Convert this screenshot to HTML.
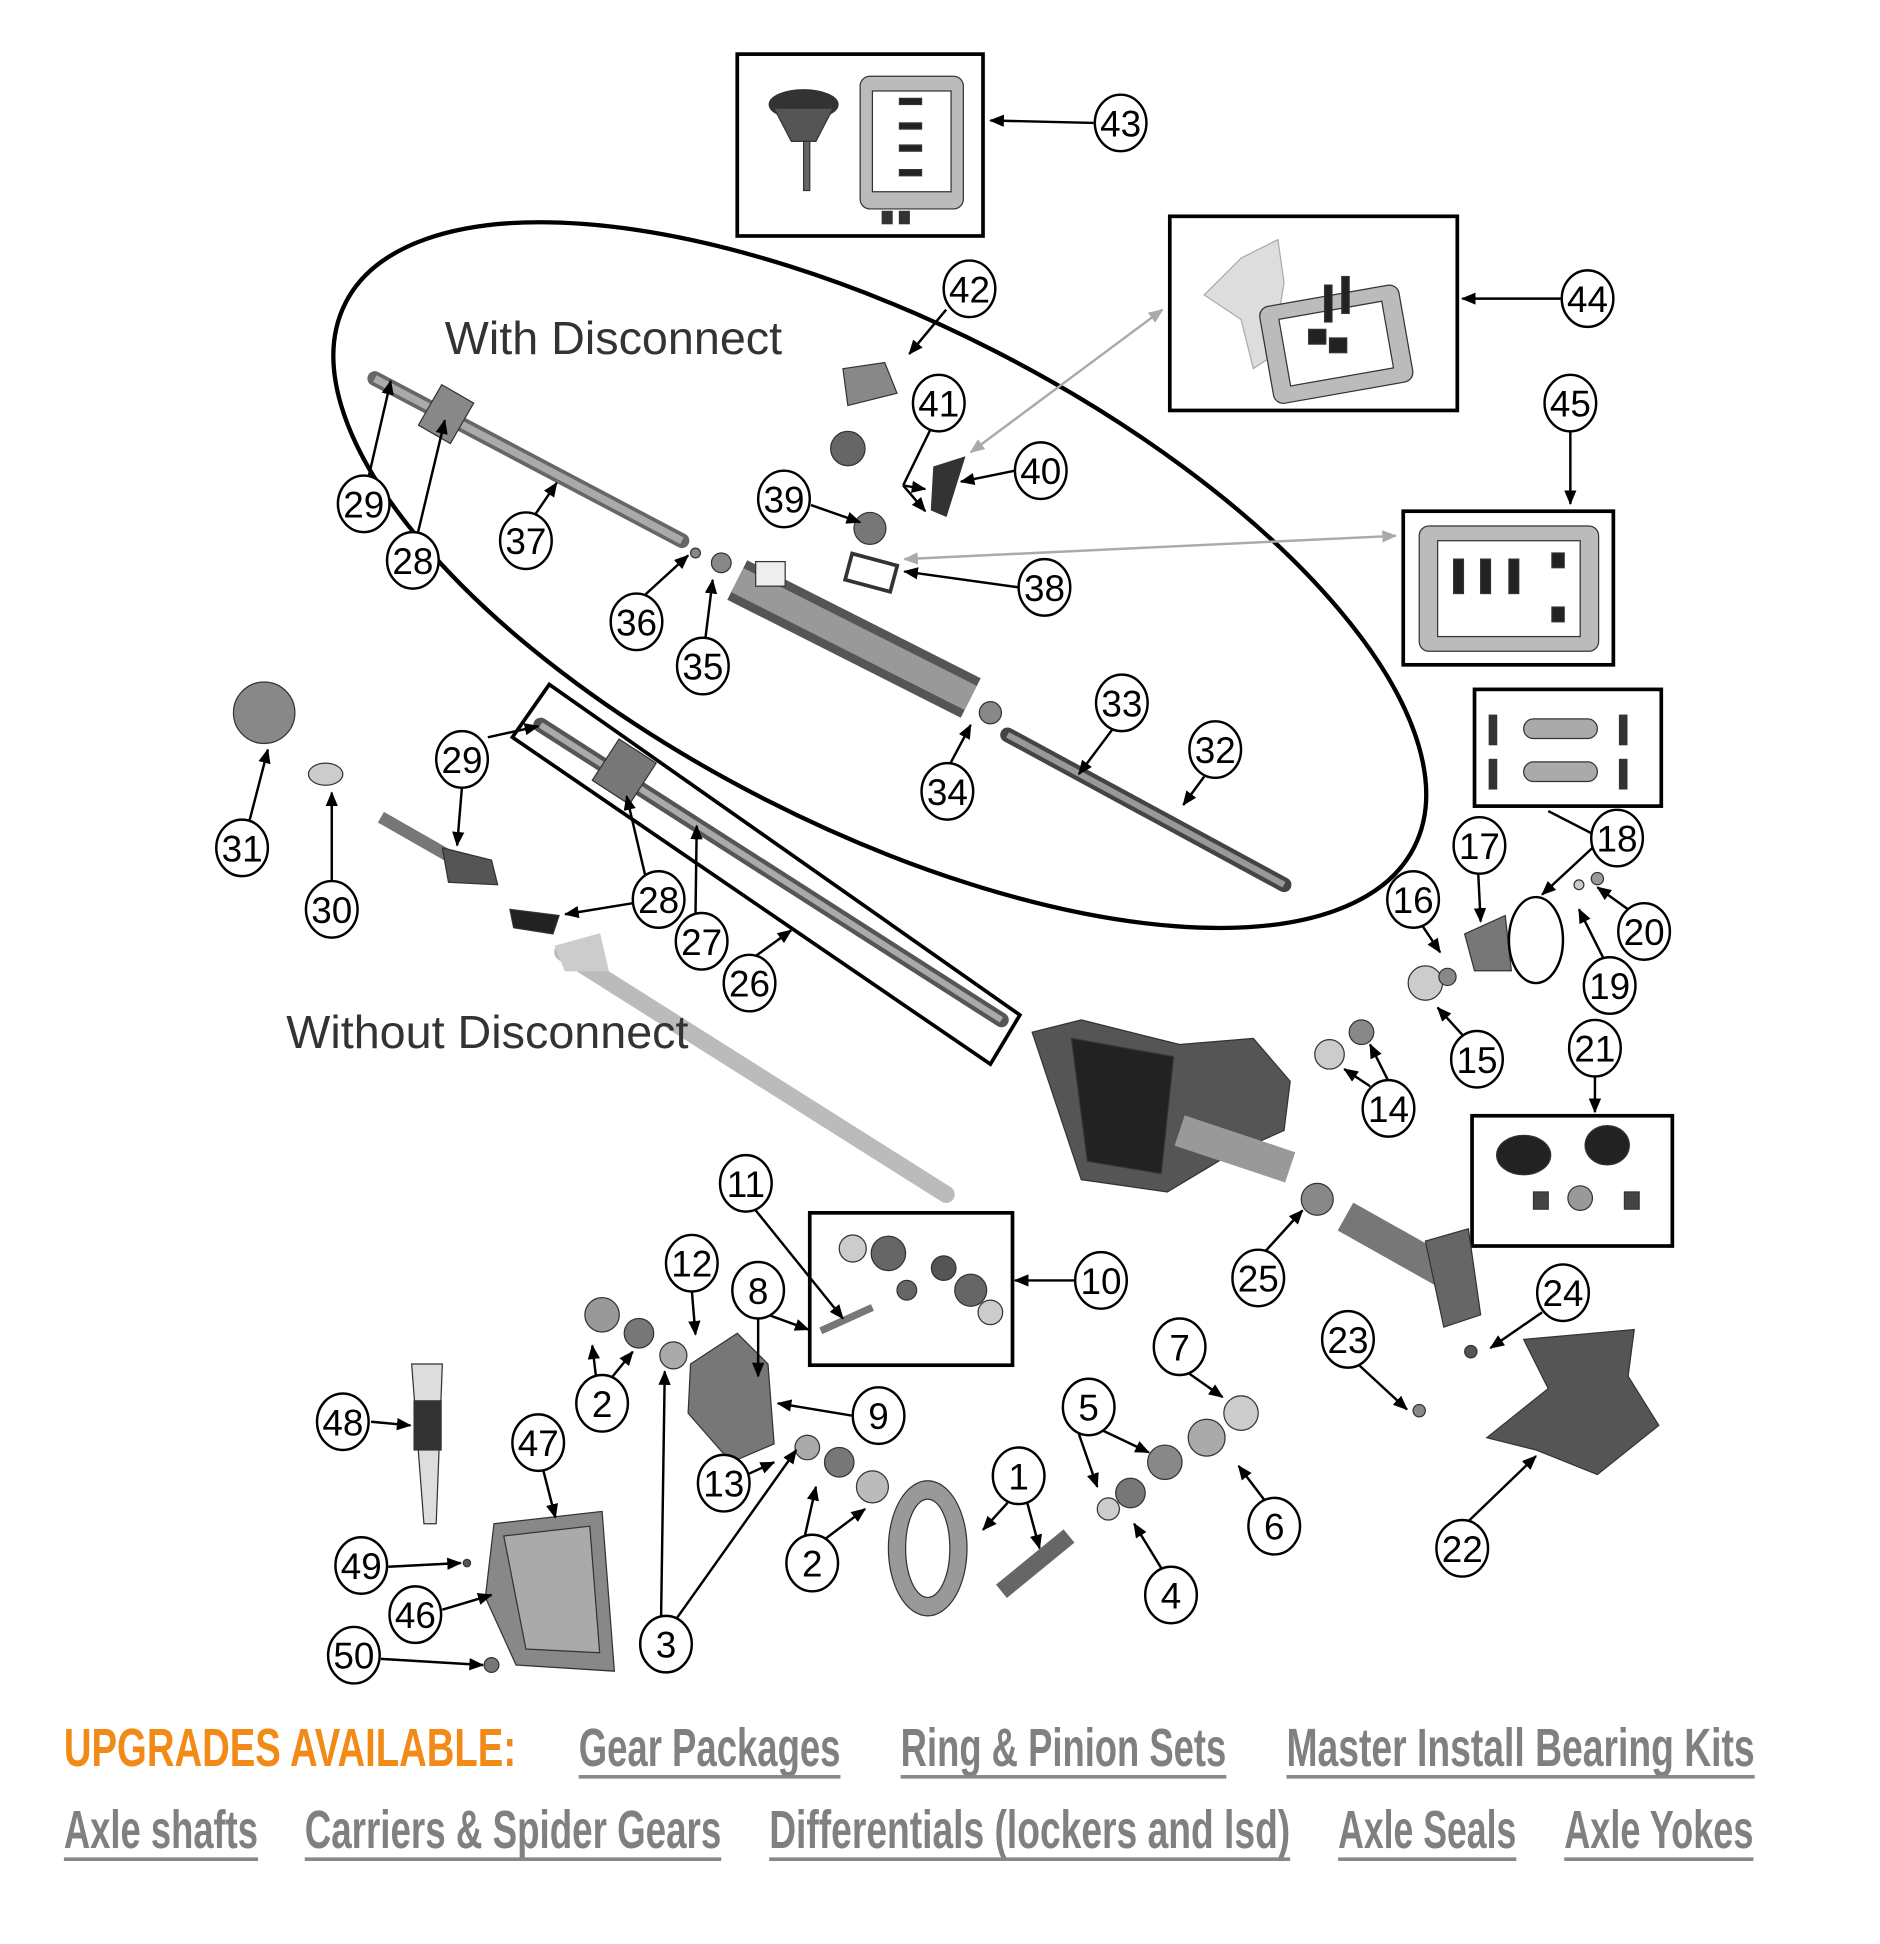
<!DOCTYPE html>
<html><head><meta charset="utf-8"><style>
html,body{margin:0;padding:0;background:#fff}
svg{display:block}
.c{fill:#fff;stroke:#000;stroke-width:2}
.n{font-family:"Liberation Sans Narrow","Liberation Sans",sans-serif;font-size:30px;text-anchor:middle;fill:#000}
.a{stroke:#000;stroke-width:2;fill:none;marker-end:url(#ah)}
.g{stroke:#aaa;stroke-width:2;fill:none;marker-end:url(#gh);marker-start:url(#gs)}
.b{fill:none;stroke:#000;stroke-width:3}
.up{font-family:"Liberation Sans Narrow","Liberation Sans",sans-serif;font-weight:bold;font-size:44px}
.lk{fill:#808080}
.ul{stroke:#888;stroke-width:3}
</style></head><body>
<svg width="1880" height="1944" viewBox="0 0 1530 1582" xmlns="http://www.w3.org/2000/svg">
<defs>
<marker id="ah" markerWidth="12" markerHeight="10" refX="11" refY="5" orient="auto" markerUnits="userSpaceOnUse"><path d="M0,0 L12,5 L0,10 Z" fill="#000"/></marker>
<marker id="gh" markerWidth="12" markerHeight="10" refX="11" refY="5" orient="auto" markerUnits="userSpaceOnUse"><path d="M0,0 L12,5 L0,10 Z" fill="#aaa"/></marker>
<marker id="gs" markerWidth="12" markerHeight="10" refX="1" refY="5" orient="auto" markerUnits="userSpaceOnUse"><path d="M12,0 L0,5 L12,10 Z" fill="#aaa"/></marker>
</defs>

<ellipse cx="716" cy="468" rx="488" ry="205" transform="rotate(27 716 468)" fill="none" stroke="#000" stroke-width="3.5"/>
<text x="362" y="288" font-family="Liberation Sans Narrow,Liberation Sans,sans-serif" font-size="38" fill="#333">With Disconnect</text>

<rect x="600" y="44" width="200" height="148" class="b"/>
<rect x="952" y="176" width="234" height="158" class="b"/>
<rect x="1142" y="416" width="171" height="125" class="b"/>
<rect x="1200" y="561" width="152" height="95" class="b"/>
<rect x="659" y="987" width="165" height="124" class="b"/>
<rect x="1198" y="908" width="163" height="106" class="b"/>
<polygon points="447,557 417,600 806,866 830,826" class="b"/>

<g fill="#777" stroke="#333" stroke-width="1">
<ellipse cx="654" cy="85" rx="28" ry="12" fill="#333"/>
<path d="M630,88 L678,88 L664,115 L644,115 Z" fill="#555"/>
<rect x="654" y="115" width="5" height="40" fill="#666"/>
<rect x="700" y="62" width="84" height="108" rx="8" fill="#bbb"/>
<rect x="710" y="74" width="64" height="82" fill="#fff"/>
<rect x="732" y="80" width="18" height="5" fill="#222"/><rect x="732" y="100" width="18" height="5" fill="#222"/><rect x="732" y="118" width="18" height="5" fill="#222"/><rect x="732" y="138" width="18" height="5" fill="#222"/>
<rect x="718" y="172" width="8" height="10" fill="#333"/><rect x="732" y="172" width="8" height="10" fill="#333"/>
<path d="M980,240 L1010,210 L1040,195 L1045,230 L1035,290 L1020,300 L1010,260 Z" fill="#ddd" stroke="#aaa"/>
<rect x="1030" y="240" width="115" height="80" rx="8" fill="#bbb" transform="rotate(-10 1088 280)"/>
<rect x="1045" y="252" width="85" height="55" fill="#fff" transform="rotate(-10 1088 280)"/>
<rect x="1078" y="232" width="6" height="30" fill="#222"/><rect x="1092" y="225" width="6" height="30" fill="#222"/>
<rect x="1065" y="268" width="14" height="12" fill="#222"/><rect x="1082" y="275" width="14" height="12" fill="#222"/>
<rect x="1155" y="428" width="146" height="102" rx="8" fill="#bbb"/>
<rect x="1170" y="440" width="116" height="78" fill="#fff"/>
<rect x="1183" y="455" width="8" height="28" fill="#222"/><rect x="1205" y="455" width="8" height="28" fill="#222"/><rect x="1228" y="455" width="8" height="28" fill="#222"/><rect x="1263" y="450" width="10" height="12" fill="#222"/><rect x="1263" y="494" width="10" height="12" fill="#222"/>
<rect x="1240" y="585" width="60" height="16" rx="8" fill="#aaa"/><rect x="1240" y="620" width="60" height="16" rx="8" fill="#aaa"/>
<rect x="1212" y="582" width="6" height="24" fill="#333"/><rect x="1318" y="582" width="6" height="24" fill="#333"/><rect x="1212" y="618" width="6" height="24" fill="#333"/><rect x="1318" y="618" width="6" height="24" fill="#333"/>
<circle cx="694" cy="1016" r="11" fill="#ccc"/><circle cx="723" cy="1020" r="14" fill="#666"/><circle cx="768" cy="1032" r="10" fill="#555"/><circle cx="790" cy="1050" r="13" fill="#666"/><circle cx="738" cy="1050" r="8" fill="#666"/><circle cx="806" cy="1068" r="10" fill="#ccc"/>
<line x1="668" y1="1083" x2="710" y2="1064" stroke="#777" stroke-width="6"/>
<ellipse cx="1240" cy="940" rx="22" ry="16" fill="#222"/><ellipse cx="1308" cy="932" rx="18" ry="16" fill="#222"/>
<rect x="1248" y="970" width="12" height="14" fill="#444"/><rect x="1322" y="970" width="12" height="14" fill="#444"/><circle cx="1286" cy="975" r="10" fill="#999"/>
<line x1="305" y1="308" x2="555" y2="440" stroke="#666" stroke-width="12" stroke-linecap="round"/>
<line x1="305" y1="308" x2="555" y2="440" stroke="#aaa" stroke-width="6"/>
<rect x="348" y="318" width="30" height="38" fill="#888" transform="rotate(30 363 337)"/>
<line x1="600" y1="472" x2="790" y2="568" stroke="#555" stroke-width="36"/>
<line x1="600" y1="472" x2="790" y2="568" stroke="#999" stroke-width="22"/>
<rect x="615" y="457" width="24" height="20" fill="#eee"/>
<rect x="690" y="455" width="38" height="22" fill="none" stroke="#333" stroke-width="3" transform="rotate(15 709 466)"/>
<line x1="820" y1="598" x2="1045" y2="720" stroke="#444" stroke-width="12" stroke-linecap="round"/>
<line x1="820" y1="598" x2="1045" y2="720" stroke="#999" stroke-width="5"/>
<circle cx="806" cy="580" r="9" fill="#888"/>
<circle cx="708" cy="430" r="13" fill="#777"/><circle cx="690" cy="365" r="14" fill="#666"/>
<path d="M686,300 L720,295 L730,320 L690,330 Z" fill="#888"/>
<path d="M760,380 L785,372 L770,420 L758,415 Z" fill="#333"/>
<circle cx="587" cy="458" r="8" fill="#888"/><circle cx="566" cy="450" r="4" fill="#888"/>
<line x1="440" y1="590" x2="815" y2="830" stroke="#555" stroke-width="12" stroke-linecap="round"/>
<line x1="440" y1="590" x2="815" y2="830" stroke="#aaa" stroke-width="5"/>
<rect x="490" y="608" width="36" height="40" fill="#777" transform="rotate(33 508 628)"/>
<line x1="458" y1="775" x2="770" y2="972" stroke="#bbb" stroke-width="14" stroke-linecap="round"/>
<path d="M452,770 L488,760 L495,790 L460,790 Z" fill="#ccc" stroke="#ccc"/>
<line x1="310" y1="665" x2="380" y2="705" stroke="#777" stroke-width="10"/>
<path d="M360,690 L400,700 L405,720 L365,718 Z" fill="#555"/>
<path d="M415,740 L455,745 L450,760 L418,755 Z" fill="#222"/>
<circle cx="215" cy="580" r="25" fill="#888"/><ellipse cx="265" cy="630" rx="14" ry="9" fill="#ccc"/>
<path d="M840,840 L880,830 L960,850 L1020,845 L1050,880 L1045,920 L1000,940 L950,970 L880,960 L860,900 Z" fill="#555"/>
<path d="M872,845 L955,860 L945,955 L885,945 Z" fill="#222"/>
<line x1="960" y1="920" x2="1050" y2="950" stroke="#999" stroke-width="26"/>
<circle cx="1072" cy="976" r="13" fill="#888"/>
<line x1="1095" y1="990" x2="1175" y2="1035" stroke="#777" stroke-width="26"/>
<path d="M1160,1010 L1195,1000 L1205,1070 L1175,1080 Z" fill="#666"/>
<path d="M1240,1090 L1330,1082 L1325,1120 L1350,1160 L1300,1200 L1250,1180 L1210,1170 L1260,1130 Z" fill="#555"/>
<circle cx="1197" cy="1100" r="5" fill="#555"/><circle cx="1155" cy="1148" r="5" fill="#888"/>
<circle cx="1160" cy="800" r="14" fill="#ccc"/><circle cx="1178" cy="795" r="7" fill="#888"/>
<path d="M1192,760 L1225,745 L1230,790 L1200,790 Z" fill="#777"/>
<ellipse cx="1250" cy="765" rx="22" ry="35" fill="none" stroke="#000" stroke-width="2"/>
<circle cx="1285" cy="720" r="4" fill="#ccc"/><circle cx="1300" cy="715" r="5" fill="#999"/>
<circle cx="1082" cy="858" r="12" fill="#ccc"/><circle cx="1108" cy="840" r="10" fill="#888"/>
<circle cx="490" cy="1070" r="14" fill="#999"/><circle cx="520" cy="1085" r="12" fill="#777"/><circle cx="548" cy="1103" r="11" fill="#aaa"/>
<path d="M562,1110 L600,1085 L625,1110 L630,1175 L595,1190 L560,1150 Z" fill="#777"/>
<circle cx="657" cy="1178" r="10" fill="#aaa"/><circle cx="683" cy="1190" r="12" fill="#777"/><circle cx="710" cy="1210" r="13" fill="#bbb"/>
<ellipse cx="755" cy="1260" rx="32" ry="55" fill="#999"/><ellipse cx="755" cy="1260" rx="18" ry="40" fill="#fff"/>
<line x1="815" y1="1295" x2="870" y2="1250" stroke="#666" stroke-width="14"/>
<circle cx="902" cy="1228" r="9" fill="#ccc"/><circle cx="920" cy="1215" r="12" fill="#777"/><circle cx="948" cy="1190" r="14" fill="#888"/><circle cx="982" cy="1170" r="15" fill="#aaa"/><circle cx="1010" cy="1150" r="14" fill="#ccc"/>
<path d="M402,1240 L490,1230 L500,1360 L420,1355 L395,1300 Z" fill="#888"/>
<path d="M410,1250 L480,1242 L488,1345 L428,1342 Z" fill="#aaa"/>
<path d="M335,1110 L360,1110 L355,1240 L345,1240 Z" fill="#ddd"/>
<rect x="337" y="1140" width="22" height="40" fill="#333"/>
<circle cx="380" cy="1272" r="3" fill="#555"/><circle cx="400" cy="1355" r="6" fill="#777"/>
</g>

<text x="233" y="853" font-family="Liberation Sans Narrow,Liberation Sans,sans-serif" font-size="38" fill="#333">Without Disconnect</text>

<g>
<line class="a" x1="890" y1="100" x2="806" y2="98"/>
<line class="a" x1="770" y1="252" x2="740" y2="288"/>
<line class="a" x1="1270" y1="243" x2="1190" y2="243"/>
<line class="a" x1="1278" y1="350" x2="1278" y2="410"/>
<polyline points="757,350 735,395" fill="none" stroke="#000" stroke-width="2"/>
<line class="a" x1="735" y1="395" x2="753" y2="398"/>
<line class="a" x1="735" y1="395" x2="753" y2="416"/>
<line class="a" x1="826" y1="383" x2="782" y2="392"/>
<line class="a" x1="660" y1="411" x2="700" y2="425"/>
<line class="g" x1="790" y1="368" x2="946" y2="252"/>
<line class="g" x1="736" y1="455" x2="1136" y2="436"/>
<line class="a" x1="300" y1="388" x2="318" y2="310"/>
<line class="a" x1="340" y1="434" x2="362" y2="342"/>
<line class="a" x1="436" y1="418" x2="453" y2="393"/>
<line class="a" x1="829" y1="478" x2="736" y2="465"/>
<line class="a" x1="525" y1="484" x2="560" y2="452"/>
<line class="a" x1="574" y1="520" x2="580" y2="472"/>
<line class="a" x1="905" y1="594" x2="878" y2="630"/>
<line class="a" x1="980" y1="632" x2="963" y2="655"/>
<line class="a" x1="773" y1="622" x2="790" y2="590"/>
<line class="a" x1="397" y1="600" x2="438" y2="591"/>
<line class="a" x1="376" y1="640" x2="372" y2="688"/>
<line class="a" x1="203" y1="668" x2="218" y2="610"/>
<line class="a" x1="270" y1="718" x2="270" y2="645"/>
<line class="a" x1="515" y1="735" x2="460" y2="744"/>
<line class="a" x1="525" y1="712" x2="510" y2="648"/>
<line class="a" x1="566" y1="746" x2="567" y2="672"/>
<line class="a" x1="615" y1="778" x2="644" y2="757"/>
<line class="a" x1="1203" y1="710" x2="1205" y2="750"/>
<line class="a" x1="1158" y1="754" x2="1172" y2="775"/>
<line x1="1295" y1="678" x2="1260" y2="660" stroke="#000" stroke-width="2"/>
<line class="a" x1="1296" y1="690" x2="1255" y2="728"/>
<line class="a" x1="1325" y1="740" x2="1300" y2="722"/>
<line class="a" x1="1305" y1="780" x2="1285" y2="740"/>
<line class="a" x1="1190" y1="842" x2="1170" y2="820"/>
<line class="a" x1="1115" y1="884" x2="1094" y2="870"/>
<line class="a" x1="1130" y1="880" x2="1115" y2="850"/>
<line class="a" x1="1298" y1="875" x2="1298" y2="905"/>
<line class="a" x1="1030" y1="1018" x2="1060" y2="985"/>
<line class="a" x1="1255" y1="1068" x2="1213" y2="1097"/>
<line class="a" x1="1105" y1="1110" x2="1145" y2="1147"/>
<line class="a" x1="1195" y1="1238" x2="1250" y2="1185"/>
<line class="a" x1="875" y1="1042" x2="826" y2="1042"/>
<line class="a" x1="615" y1="985" x2="686" y2="1073"/>
<line class="a" x1="563" y1="1050" x2="566" y2="1086"/>
<line class="a" x1="617" y1="1072" x2="617" y2="1120"/>
<line class="a" x1="598" y1="1060" x2="658" y2="1082"/>
<line class="a" x1="693" y1="1152" x2="633" y2="1142"/>
<line class="a" x1="968" y1="1118" x2="995" y2="1137"/>
<line class="a" x1="878" y1="1167" x2="893" y2="1210"/>
<line class="a" x1="895" y1="1163" x2="935" y2="1182"/>
<line class="a" x1="1030" y1="1222" x2="1008" y2="1193"/>
<line class="a" x1="945" y1="1276" x2="923" y2="1240"/>
<line class="a" x1="820" y1="1223" x2="800" y2="1245"/>
<line class="a" x1="836" y1="1223" x2="846" y2="1260"/>
<line class="a" x1="485" y1="1120" x2="482" y2="1095"/>
<line class="a" x1="497" y1="1122" x2="515" y2="1100"/>
<line class="a" x1="655" y1="1250" x2="664" y2="1210"/>
<line class="a" x1="672" y1="1252" x2="704" y2="1228"/>
<line class="a" x1="608" y1="1200" x2="630" y2="1190"/>
<line class="a" x1="538" y1="1317" x2="541" y2="1116"/>
<line class="a" x1="550" y1="1318" x2="648" y2="1180"/>
<line class="a" x1="302" y1="1157" x2="334" y2="1160"/>
<line class="a" x1="442" y1="1196" x2="452" y2="1235"/>
<line class="a" x1="316" y1="1275" x2="375" y2="1272"/>
<line class="a" x1="360" y1="1310" x2="400" y2="1298"/>
<line class="a" x1="310" y1="1350" x2="393" y2="1355"/>
</g>

<g>
<g transform="translate(912,100)"><ellipse class="c" rx="21" ry="23"/><text class="n" y="11">43</text></g>
<g transform="translate(789,235)"><ellipse class="c" rx="21" ry="23"/><text class="n" y="11">42</text></g>
<g transform="translate(1292,243)"><ellipse class="c" rx="21" ry="23"/><text class="n" y="11">44</text></g>
<g transform="translate(1278,328)"><ellipse class="c" rx="21" ry="23"/><text class="n" y="11">45</text></g>
<g transform="translate(764,328)"><ellipse class="c" rx="21" ry="23"/><text class="n" y="11">41</text></g>
<g transform="translate(847,383)"><ellipse class="c" rx="21" ry="23"/><text class="n" y="11">40</text></g>
<g transform="translate(638,406)"><ellipse class="c" rx="21" ry="23"/><text class="n" y="11">39</text></g>
<g transform="translate(296,410)"><ellipse class="c" rx="21" ry="23"/><text class="n" y="11">29</text></g>
<g transform="translate(428,440)"><ellipse class="c" rx="21" ry="23"/><text class="n" y="11">37</text></g>
<g transform="translate(336,456)"><ellipse class="c" rx="21" ry="23"/><text class="n" y="11">28</text></g>
<g transform="translate(850,478)"><ellipse class="c" rx="21" ry="23"/><text class="n" y="11">38</text></g>
<g transform="translate(518,506)"><ellipse class="c" rx="21" ry="23"/><text class="n" y="11">36</text></g>
<g transform="translate(572,542)"><ellipse class="c" rx="21" ry="23"/><text class="n" y="11">35</text></g>
<g transform="translate(913,572)"><ellipse class="c" rx="21" ry="23"/><text class="n" y="11">33</text></g>
<g transform="translate(989,610)"><ellipse class="c" rx="21" ry="23"/><text class="n" y="11">32</text></g>
<g transform="translate(376,618)"><ellipse class="c" rx="21" ry="23"/><text class="n" y="11">29</text></g>
<g transform="translate(771,644)"><ellipse class="c" rx="21" ry="23"/><text class="n" y="11">34</text></g>
<g transform="translate(197,690)"><ellipse class="c" rx="21" ry="23"/><text class="n" y="11">31</text></g>
<g transform="translate(1204,688)"><ellipse class="c" rx="21" ry="23"/><text class="n" y="11">17</text></g>
<g transform="translate(1316,682)"><ellipse class="c" rx="21" ry="23"/><text class="n" y="11">18</text></g>
<g transform="translate(536,732)"><ellipse class="c" rx="21" ry="23"/><text class="n" y="11">28</text></g>
<g transform="translate(1150,732)"><ellipse class="c" rx="21" ry="23"/><text class="n" y="11">16</text></g>
<g transform="translate(270,740)"><ellipse class="c" rx="21" ry="23"/><text class="n" y="11">30</text></g>
<g transform="translate(571,766)"><ellipse class="c" rx="21" ry="23"/><text class="n" y="11">27</text></g>
<g transform="translate(1338,758)"><ellipse class="c" rx="21" ry="23"/><text class="n" y="11">20</text></g>
<g transform="translate(1310,802)"><ellipse class="c" rx="21" ry="23"/><text class="n" y="11">19</text></g>
<g transform="translate(610,800)"><ellipse class="c" rx="21" ry="23"/><text class="n" y="11">26</text></g>
<g transform="translate(1202,862)"><ellipse class="c" rx="21" ry="23"/><text class="n" y="11">15</text></g>
<g transform="translate(1298,853)"><ellipse class="c" rx="21" ry="23"/><text class="n" y="11">21</text></g>
<g transform="translate(1130,902)"><ellipse class="c" rx="21" ry="23"/><text class="n" y="11">14</text></g>
<g transform="translate(607,963)"><ellipse class="c" rx="21" ry="23"/><text class="n" y="11">11</text></g>
<g transform="translate(896,1042)"><ellipse class="c" rx="21" ry="23"/><text class="n" y="11">10</text></g>
<g transform="translate(563,1028)"><ellipse class="c" rx="21" ry="23"/><text class="n" y="11">12</text></g>
<g transform="translate(1024,1040)"><ellipse class="c" rx="21" ry="23"/><text class="n" y="11">25</text></g>
<g transform="translate(617,1050)"><ellipse class="c" rx="21" ry="23"/><text class="n" y="11">8</text></g>
<g transform="translate(1272,1052)"><ellipse class="c" rx="21" ry="23"/><text class="n" y="11">24</text></g>
<g transform="translate(960,1096)"><ellipse class="c" rx="21" ry="23"/><text class="n" y="11">7</text></g>
<g transform="translate(1097,1090)"><ellipse class="c" rx="21" ry="23"/><text class="n" y="11">23</text></g>
<g transform="translate(490,1142)"><ellipse class="c" rx="21" ry="23"/><text class="n" y="11">2</text></g>
<g transform="translate(715,1152)"><ellipse class="c" rx="21" ry="23"/><text class="n" y="11">9</text></g>
<g transform="translate(279,1157)"><ellipse class="c" rx="21" ry="23"/><text class="n" y="11">48</text></g>
<g transform="translate(886,1145)"><ellipse class="c" rx="21" ry="23"/><text class="n" y="11">5</text></g>
<g transform="translate(438,1174)"><ellipse class="c" rx="21" ry="23"/><text class="n" y="11">47</text></g>
<g transform="translate(829,1201)"><ellipse class="c" rx="21" ry="23"/><text class="n" y="11">1</text></g>
<g transform="translate(589,1207)"><ellipse class="c" rx="21" ry="23"/><text class="n" y="11">13</text></g>
<g transform="translate(1037,1242)"><ellipse class="c" rx="21" ry="23"/><text class="n" y="11">6</text></g>
<g transform="translate(1190,1260)"><ellipse class="c" rx="21" ry="23"/><text class="n" y="11">22</text></g>
<g transform="translate(661,1272)"><ellipse class="c" rx="21" ry="23"/><text class="n" y="11">2</text></g>
<g transform="translate(294,1274)"><ellipse class="c" rx="21" ry="23"/><text class="n" y="11">49</text></g>
<g transform="translate(953,1298)"><ellipse class="c" rx="21" ry="23"/><text class="n" y="11">4</text></g>
<g transform="translate(338,1314)"><ellipse class="c" rx="21" ry="23"/><text class="n" y="11">46</text></g>
<g transform="translate(542,1338)"><ellipse class="c" rx="21" ry="23"/><text class="n" y="11">3</text></g>
<g transform="translate(288,1347)"><ellipse class="c" rx="21" ry="23"/><text class="n" y="11">50</text></g>
</g>

<text class="up" x="52" y="1437" fill="#f28a17" textLength="368" lengthAdjust="spacingAndGlyphs">UPGRADES AVAILABLE:</text>
<text class="up lk" x="471" y="1437" textLength="213" lengthAdjust="spacingAndGlyphs">Gear Packages</text>
<line class="ul" x1="471" y1="1446" x2="684" y2="1446"/>
<text class="up lk" x="733" y="1437" textLength="265" lengthAdjust="spacingAndGlyphs">Ring &amp; Pinion Sets</text>
<line class="ul" x1="733" y1="1446" x2="998" y2="1446"/>
<text class="up lk" x="1047" y="1437" textLength="381" lengthAdjust="spacingAndGlyphs">Master Install Bearing Kits</text>
<line class="ul" x1="1047" y1="1446" x2="1428" y2="1446"/>
<text class="up lk" x="52" y="1504" textLength="158" lengthAdjust="spacingAndGlyphs">Axle shafts</text>
<line class="ul" x1="52" y1="1513" x2="210" y2="1513"/>
<text class="up lk" x="248" y="1504" textLength="339" lengthAdjust="spacingAndGlyphs">Carriers &amp; Spider Gears</text>
<line class="ul" x1="248" y1="1513" x2="587" y2="1513"/>
<text class="up lk" x="626" y="1504" textLength="424" lengthAdjust="spacingAndGlyphs">Differentials (lockers and lsd)</text>
<line class="ul" x1="626" y1="1513" x2="1050" y2="1513"/>
<text class="up lk" x="1089" y="1504" textLength="145" lengthAdjust="spacingAndGlyphs">Axle Seals</text>
<line class="ul" x1="1089" y1="1513" x2="1234" y2="1513"/>
<text class="up lk" x="1273" y="1504" textLength="154" lengthAdjust="spacingAndGlyphs">Axle Yokes</text>
<line class="ul" x1="1273" y1="1513" x2="1427" y2="1513"/>
</svg>
</body></html>
